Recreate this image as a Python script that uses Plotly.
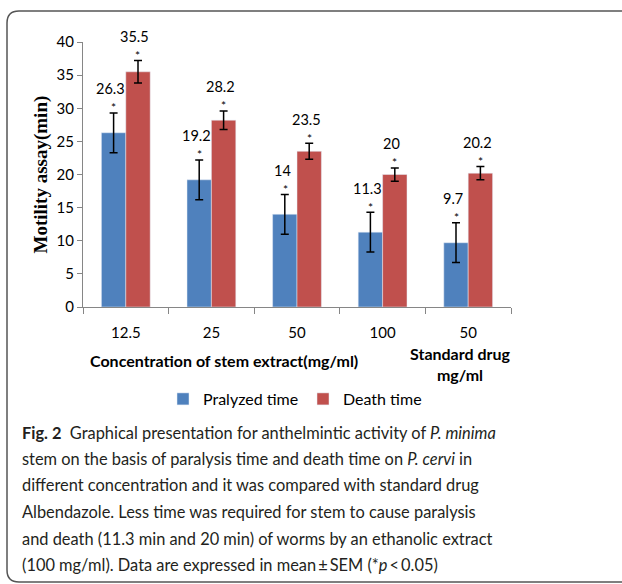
import plotly.graph_objects as go

categories = ["12.5", "25", "50", "100", "50"]
paralyzed = [26.3, 19.2, 14, 11.3, 9.7]
paralyzed_err = [3, 3, 3, 3, 3]
death = [35.5, 28.2, 23.5, 20, 20.2]
death_err = [1.7, 1.4, 1.2, 1.0, 1.0]
series_names = ["Pralyzed time", "Death time"]
y_ticks = [0, 5, 10, 15, 20, 25, 30, 35, 40]

caption_lines = [
    "<b>Fig. 2</b>  Graphical presentation for anthelmintic activity of <i>P. minima</i>",
    "stem on the basis of paralysis time and death time on <i>P. cervi</i> in",
    "different concentration and it was compared with standard drug",
    "Albendazole. Less time was required for stem to cause paralysis",
    "and death (11.3 min and 20 min) of worms by an ethanolic extract",
    "(100 mg/ml). Data are expressed in mean\u2009\u00b1\u2009SEM (*<i>p</i>\u2009<\u20090.05)",
]

W, H = 622, 584
L, R, T, B = 83, 111, 42, 277
PW, PH = W - L - R, H - T - B

def px_x(x):
    return (x - L) / PW

def px_y(y):
    return (H - B - y) / PH

BLUE = "#4F81BD"
RED = "#C0504D"
FONT = "Lato"
xs = list(range(len(categories)))

fig = go.Figure()
fig.add_trace(go.Bar(
    x=xs, y=paralyzed, name=series_names[0], marker_color=BLUE,
    error_y=dict(type="data", array=paralyzed_err, color="black", thickness=1.5, width=4),
))
fig.add_trace(go.Bar(
    x=xs, y=death, name=series_names[1], marker_color=RED,
    error_y=dict(type="data", array=death_err, color="black", thickness=1.5, width=4),
))

annotations = []
for vals, errs, shift in [(paralyzed, paralyzed_err, -12), (death, death_err, 12)]:
    for i, (v, e) in enumerate(zip(vals, errs)):
        annotations.append(dict(x=i, y=v + e, xref="x", yref="y", text="*", showarrow=False,
                                xshift=shift, yshift=5, yanchor="middle",
                                font=dict(family=FONT, size=12, color="black")))
        annotations.append(dict(x=i, y=v + e, xref="x", yref="y", text=str(v), showarrow=False,
                                xshift=shift - 3, yshift=24, yanchor="middle",
                                font=dict(family=FONT, size=14.5, color="black")))

annotations.append(dict(x=px_x(40), y=0.5, xref="paper", yref="paper", text="<b>Motility assay(min)</b>",
                        textangle=-90, showarrow=False, xanchor="center", yanchor="middle",
                        font=dict(family="Liberation Serif", size=19, color="black")))
annotations.append(dict(x=px_x(224), y=px_y(360), xref="paper", yref="paper",
                        text="<b>Concentration of stem extract(mg/ml)</b>", showarrow=False,
                        xanchor="center", yanchor="middle",
                        font=dict(family=FONT, size=16, color="black")))
annotations.append(dict(x=px_x(460), y=px_y(364), xref="paper", yref="paper",
                        text="<b>Standard drug<br>mg/ml</b>", showarrow=False,
                        xanchor="center", yanchor="middle",
                        font=dict(family=FONT, size=16, color="black")))

cap_y = [432, 458, 485, 511, 538, 564]
for line, yy in zip(caption_lines, cap_y):
    annotations.append(dict(x=px_x(20), y=px_y(yy), xref="paper", yref="paper", text=line,
                            showarrow=False, xanchor="left", yanchor="middle", align="left",
                            font=dict(family=FONT, size=16.4, color="#231f20")))

# rounded frame
x0, x1, y0, y1 = px_x(7), px_x(640), px_y(582), px_y(11)
rx, ry = 12 / PW, 12 / PH
path = (f"M {x0+rx},{y1} L {x1},{y1} L {x1},{y0} L {x0+rx},{y0} "
        f"Q {x0},{y0} {x0},{y0+ry} L {x0},{y1-ry} Q {x0},{y1} {x0+rx},{y1} Z")

fig.update_layout(
    width=W, height=H,
    margin=dict(l=L, r=R, t=T, b=B),
    paper_bgcolor="white", plot_bgcolor="white",
    barmode="group", bargap=0.43, bargroupgap=0,
    showlegend=True,
    legend=dict(orientation="h", x=px_x(163), y=px_y(382), xanchor="left", yanchor="top",
                font=dict(family=FONT, size=16, color="black"), entrywidth=95, entrywidthmode="pixels"),
    annotations=annotations,
    shapes=[dict(type="path", xref="paper", yref="paper", path=path,
                 line=dict(color="#555555", width=1.5))],
    font=dict(family=FONT),
)
fig.update_xaxes(
    range=[-0.5, 4.5], tickvals=xs, ticktext=categories, ticks="",
    showline=True, linecolor="#868686", linewidth=1, showgrid=False, zeroline=False,
    tickfont=dict(family=FONT, size=15, color="black"), ticklabelstandoff=12,
    minor=dict(tick0=-0.5, dtick=1, ticks="outside", ticklen=6, tickcolor="#868686", showgrid=False),
)
fig.update_yaxes(
    range=[0, 40], tickvals=y_ticks, ticks="outside", ticklen=5, tickcolor="#868686",
    showline=True, linecolor="#868686", linewidth=1, showgrid=False, zeroline=False,
    tickfont=dict(family=FONT, size=15, color="black"),
)

fig.write_html("out.html", config={"displayModeBar": False},
               post_script="document.body.style.margin='0';document.body.style.overflow='hidden';")
